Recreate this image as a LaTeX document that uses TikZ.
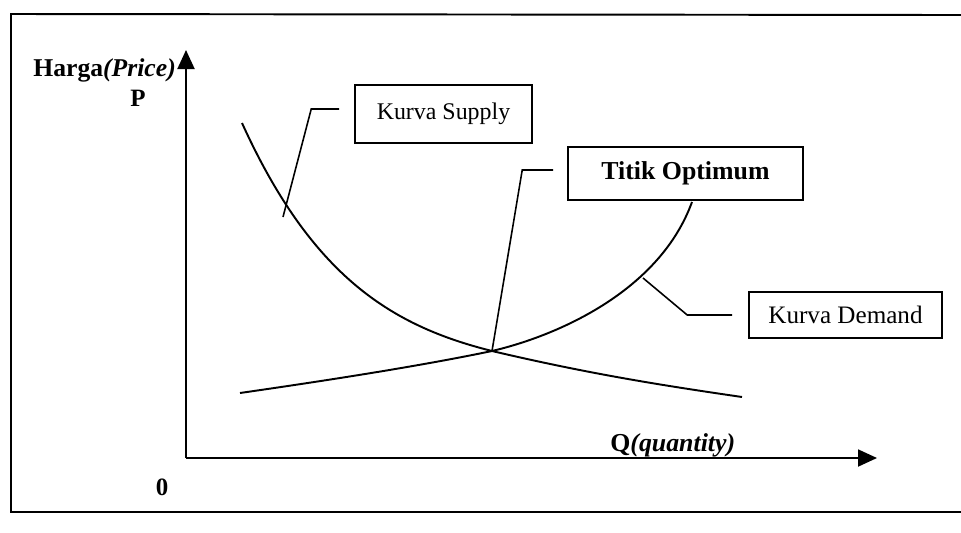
\documentclass[tikz,border=0pt]{standalone}
\usepackage{fontspec}
\setmainfont{Liberation Serif}
\usepackage{tikz}
\usetikzlibrary{arrows.meta, calc}

\tikzset{
  curve/.style={line width=1.1pt},
  axisline/.style={line width=1.1pt, -{Triangle[length=0.38cm, width=0.34cm]}},
  leader/.style={line width=0.9pt},
  labelbox/.style={draw, line width=0.9pt, fill=white, inner sep=0pt}
}

\begin{document}
\begin{tikzpicture}[x=0.02cm, y=-0.02cm]
\useasboundingbox (0,0) rectangle (961,532);

% ── Frame ───────────────────────────────────────────────────────
\draw[line width=1.1pt] (961,15) -- (11,14) -- (11,512) -- (961,512);

% ── Axes ────────────────────────────────────────────────────────
\coordinate (O) at (186,458);
\coordinate (ytip) at (186,50);
\coordinate (xtip) at (877,458);
\draw[axisline] (O) -- (ytip);
\draw[axisline] (O) -- (xtip);

\node[anchor=base west, inner sep=0pt, font=\fontsize{14.6}{17}\selectfont] (harga) at (33,76)
{\textbf{Harga\textit{(Price)}}};
\node[anchor=base, inner sep=0pt, font=\fontsize{14.2}{17}\selectfont] (plabel) at (138,106) {\textbf{P}};
\node[anchor=base west, inner sep=0pt, font=\fontsize{14.7}{17}\selectfont] (qlabel) at (610,451)
{\textbf{Q\textit{(quantity)}}};
\node[anchor=base, inner sep=0pt, font=\fontsize{14.2}{17}\selectfont] (zero) at (162,495) {\textbf{0}};

% ── Curves ──────────────────────────────────────────────────────
\coordinate (opt) at (492,351);
\coordinate (supA) at (283,217);
\coordinate (demA) at (643,278);
% supply (falling)
\draw[curve] (242,123) .. controls (312,277) and (392,326) .. (opt)
  .. controls (590,374) and (660,385) .. (742,397);
% demand (rising)
\draw[curve] (240,393) .. controls (330,380) and (420,366) .. (opt)
  .. controls (560,335) and (660,290) .. (692,202);

% ── Label boxes ─────────────────────────────────────────────────
\node[labelbox, minimum width=3.54cm, minimum height=1.16cm,
  font=\fontsize{13.6}{16}\selectfont] (ksupply) at (443.5,114) {Kurva Supply};
\node[labelbox, minimum width=4.7cm, minimum height=1.06cm,
  font=\fontsize{14.7}{17}\selectfont] (topt) at (685.5,173.5) {\textbf{Titik Optimum}};
\node[labelbox, minimum width=3.86cm, minimum height=0.92cm,
  font=\fontsize{14.3}{17}\selectfont] (kdemand) at (845.5,315) {Kurva Demand};

% ── Leaders ─────────────────────────────────────────────────────
\draw[leader] ([xshift=-0.3cm, yshift=0.1cm]ksupply.west) -- ++(-28,0) -- (supA);
\draw[leader] ([xshift=-0.28cm, yshift=0.07cm]topt.west) -- ++(-31,0) -- (opt);
\draw[leader] ([xshift=-0.32cm]kdemand.west) -- ++(-45,0) -- (demA);

\end{tikzpicture}
\end{document}
